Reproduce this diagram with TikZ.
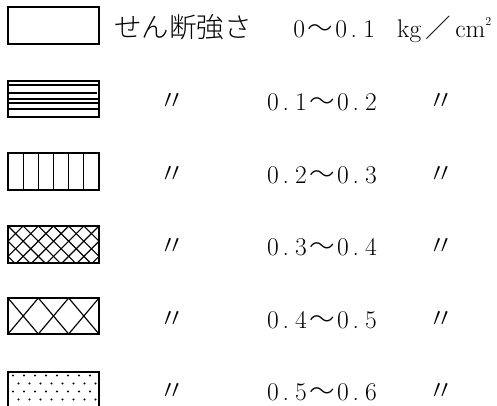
\documentclass[tikz,border=0pt]{standalone}
\usepackage{fontspec}
\newfontfamily\jp{Noto Sans CJK JP}[UprightFont={* Light}]
% half-width cell for digits
\newcommand\hkn[1]{\makebox[14pt]{#1}}
\newcommand\tn{\makebox[14pt][l]{\hspace{2.5pt}.}}
\newcommand\wav{\makebox[28pt]{\jp 〜}}
\newcommand\rng[4]{\hkn{#1}\tn\hkn{#2}\wav\hkn{#3}\tn\hkn{#4}}
\tikzset{
  box/.style={line width=1.3pt},
  hatch/.style={line width=1.2pt},
  lbl/.style={anchor=base, inner sep=0pt, font=\fontsize{25.5}{28}\selectfont},
  jlbl/.style={anchor=base, inner sep=0pt, font=\jp\fontsize{27.5}{30}\selectfont}
}
\begin{document}
\begin{tikzpicture}[x=1pt,y=-1pt]
  \clip (0,0) rectangle (497,405);
  % 0~0.1
  \draw[box] (8,7) rectangle (99,44);
  % 0.1~0.2
  \foreach \y in {85,99,103,109}
    \draw[hatch] (8,\y) -- (99,\y);
  \draw[hatch] (7,93) -- (97,93);
  \draw[box] (8,81) rectangle (99,117);
  % 0.2~0.3
  \foreach \x in {23.2,38.3,53.5,68.7,83.8}
    \draw[hatch] (\x,153) -- (\x,190);
  \draw[box] (8,153) rectangle (99,190);
  % 0.3~0.4
  \begin{scope}
    \clip (8,226) rectangle (99,263);
    \foreach \k in {-3,...,9} {
      \draw[line width=1.15pt] ({8+\k*15.17},226) -- ++(37,37);
      \draw[line width=1.15pt] ({8+\k*15.17},226) -- ++(-37,37);
    }
  \end{scope}
  \draw[box] (8,226) rectangle (99,263);
  % 0.4~0.5
  \foreach \k in {0,1,2} {
    \draw[line width=1.15pt] ({8+\k*30.33},298) -- ({8+(\k+1)*30.33},334);
    \draw[line width=1.15pt] ({8+\k*30.33},334) -- ({8+(\k+1)*30.33},298);
  }
  \draw[box] (8,298) rectangle (99,334);
  % 0.5~0.6
  \begin{scope}
    \clip (8,372) rectangle (99,412);
    \foreach \i in {0,...,4}
      \foreach \j in {0,...,8}
        \fill ({13+\j*11+mod(\i,2)*5.5},{375.5+\i*8}) circle (1.1);
  \end{scope}
  \draw[box] (8,372) rectangle (99,412);
  % Legendas
  \node[jlbl, anchor=base west] (ttl) at (114,37.3) {せん断強さ};
  \node[lbl, anchor=base west] (r1) at (292,37.3) {\hkn{0}\wav\hkn{0}\tn\hkn{1}};
  \node[lbl, anchor=base west] (unit) at (397,37.3)
    {kg\hspace{3pt}\makebox[28pt]{\jp ／}\hspace{3pt}cm\raisebox{12pt}{\fontsize{12}{12}\selectfont 2}};
  \node[lbl] (r2) at (322,110) {\rng{0}{1}{0}{2}};
  \node[lbl] (r3) at (322,183) {\rng{0}{2}{0}{3}};
  \node[lbl] (r4) at (322,255.5) {\rng{0}{3}{0}{4}};
  \node[lbl] (r5) at (322,328) {\rng{0}{4}{0}{5}};
  \node[lbl] (r6) at (322,400.5) {\rng{0}{5}{0}{6}};
  % ditto
  \foreach \n/\y in {2/110,3/183,4/255.5,5/328,6/400.5} {
    \node[jlbl] (da\n) at (172,\y) {〃};
    \node[jlbl] (db\n) at (441,\y) {〃};
  }
\end{tikzpicture}
\end{document}
